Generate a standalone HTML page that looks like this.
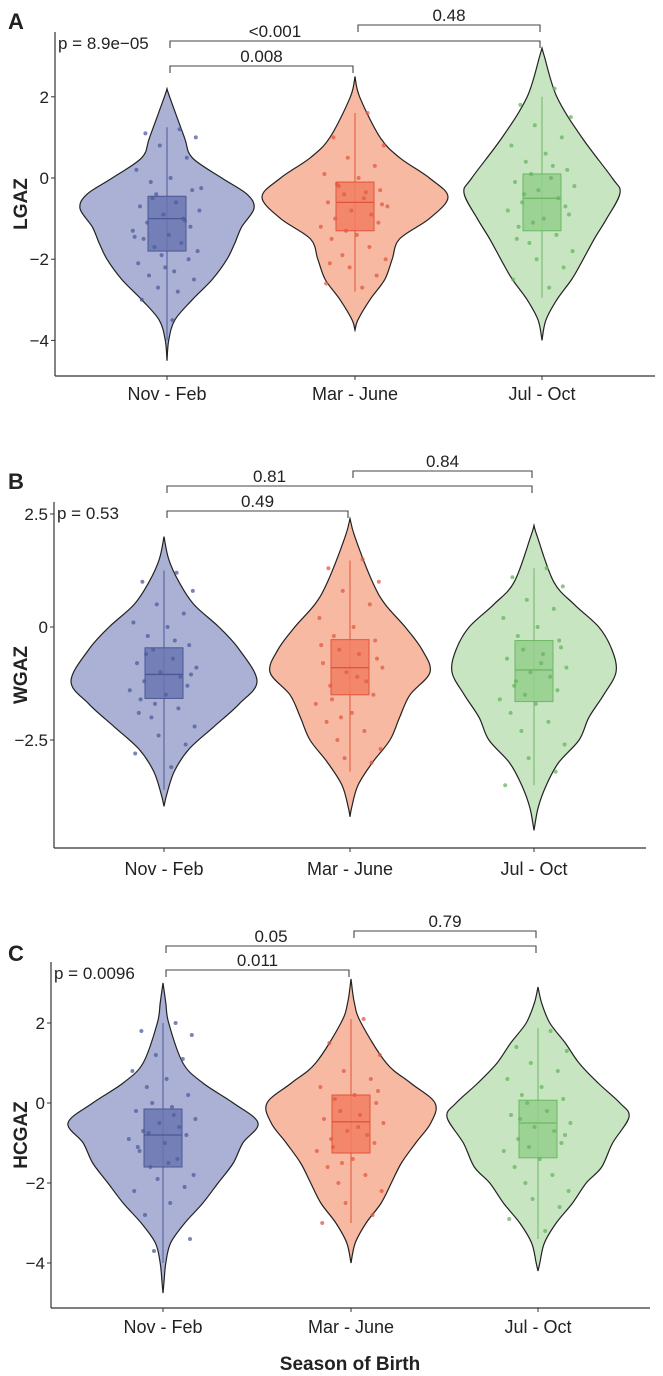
<!DOCTYPE html>
<html><head><meta charset="utf-8">
<style>
html,body{margin:0;padding:0;background:#fff;}
svg{display:block;font-family:"Liberation Sans",Arial,sans-serif;}
</style></head>
<body>
<svg id="chart" width="663" height="1376" viewBox="0 0 663 1376" xmlns="http://www.w3.org/2000/svg"></svg>
<script>
// ---------- data ----------
const categories = ["Nov - Feb", "Mar - June", "Jul - Oct"];
const panelLetters = ["A", "B", "C"];
const yTitles = ["LGAZ", "WGAZ", "HCGAZ"];
const yTicksA = [2, 0, -2, -4];
const yTicksB = [2.5, 0, -2.5];
const yTicksC = [2, 0, -2, -4];
const yTickLabelsB = ["2.5", "0", "-2.5"];
const overallP = ["p = 8.9e\u221205", "p = 0.53", "p = 0.0096"];
const pairP_A = ["0.008", "<0.001", "0.48"];
const pairP_B = ["0.49", "0.81", "0.84"];
const pairP_C = ["0.011", "0.05", "0.79"];
// box stats: [lowerWhisker, Q1, median, Q3, upperWhisker]
const boxA = [[-4.0,-1.8,-1.0,-0.45,1.25],[-2.8,-1.3,-0.6,-0.1,1.6],[-2.95,-1.3,-0.5,0.1,2.0]];
const boxB = [[-3.6,-1.58,-1.05,-0.46,1.25],[-3.2,-1.5,-0.9,-0.28,1.47],[-3.5,-1.65,-0.95,-0.3,1.3]];
const boxC = [[-4.0,-1.6,-0.8,-0.15,2.0],[-3.0,-1.25,-0.47,0.2,2.1],[-3.4,-1.37,-0.5,0.07,1.87]];
// violin density profiles: levels (value) and relative density
const levA1 = [2.2,2,1,0.5,0,-0.4,-0.75,-1.2,-1.6,-2,-2.5,-3,-3.5,-4,-4.5];
const denA1 = [0,0.03,0.2,0.29,0.63,0.92,1,0.86,0.78,0.69,0.52,0.29,0.09,0.02,0];
const levA2 = [2.5,2,1,0.5,0,-0.47,-1,-1.5,-2,-2.5,-3,-3.5,-3.75];
const denA2 = [0,0.05,0.27,0.48,0.8,1,0.8,0.48,0.4,0.32,0.16,0.03,0];
const levA3 = [3.2,3,2,1,0,-0.37,-1,-1.5,-2.1,-2.5,-3,-3.5,-4.0];
const denA3 = [0,0.03,0.19,0.51,0.9,1,0.83,0.67,0.5,0.38,0.19,0.05,0];
const levB1 = [2.0,1.5,1,0.5,0,-0.5,-1.2,-1.7,-2.2,-2.7,-3.2,-3.7,-3.97];
const denB1 = [0,0.05,0.16,0.32,0.59,0.81,1,0.81,0.54,0.27,0.11,0.03,0];
const levB2 = [2.4,2,1,0.5,0,-0.5,-1,-1.5,-2,-2.5,-3,-3.5,-4,-4.2];
const denB2 = [0,0.06,0.28,0.44,0.69,0.9,1,0.75,0.62,0.5,0.28,0.1,0.02,0];
const levB3 = [2.25,2,1,0.5,0,-0.5,-1,-1.5,-2,-2.5,-3,-3.5,-4,-4.5];
const denB3 = [0,0.04,0.24,0.49,0.79,0.95,1,0.85,0.67,0.55,0.3,0.15,0.05,0];
const levC1 = [3.0,2.5,2,1,0.5,0,-0.5,-1,-1.5,-2,-2.5,-3,-3.5,-4,-4.5,-4.75];
const denC1 = [0,0.03,0.06,0.21,0.42,0.74,1,0.84,0.74,0.58,0.42,0.23,0.08,0.03,0.01,0];
const levC2 = [3.1,2.5,2,1,0.5,0,-0.5,-1,-1.5,-2,-2.5,-3,-3.5,-4.0];
const denC2 = [0,0.04,0.12,0.42,0.71,1,0.95,0.77,0.6,0.48,0.36,0.18,0.05,0];
const levC3 = [2.9,2.5,2,1.5,1,0.5,0,-0.35,-1,-1.6,-2,-2.5,-3,-3.5,-4,-4.2];
const denC3 = [0,0.04,0.13,0.3,0.45,0.66,0.9,1,0.82,0.7,0.53,0.38,0.2,0.07,0.02,0];
// jittered observation values (subset)
const ptsA1 = [1.2,1.1,1.0,0.8,0.5,0.2,0.0,-0.1,-0.3,-0.4,-0.6,-0.7,-0.8,-0.9,-1.0,-1.1,-1.2,-1.3,-1.4,-1.5,-1.6,-1.7,-1.8,-1.9,-2.0,-2.1,-2.3,-2.4,-2.5,-2.7,-2.8,-3.0,-3.5,-0.5,-1.05,-1.45,-0.25,-2.2];
const ptsA2 = [1.6,1.0,0.8,0.5,0.3,0.1,0.0,-0.2,-0.3,-0.4,-0.5,-0.6,-0.7,-0.8,-0.9,-1.0,-1.1,-1.2,-1.4,-1.5,-1.7,-1.9,-2.0,-2.2,-2.4,-2.6,-2.7,-0.15,-0.65,-1.3,-0.35,-2.1];
const ptsA3 = [2.2,1.8,1.5,1.3,1.0,0.8,0.6,0.4,0.2,0.1,0.0,-0.1,-0.2,-0.3,-0.5,-0.6,-0.7,-0.8,-1.0,-1.2,-1.4,-1.6,-1.8,-2.0,-2.2,-2.5,-2.7,-0.4,-0.9,-1.1,0.3,-1.5];
const ptsB1 = [1.2,1.0,0.8,0.5,0.3,0.1,0.0,-0.2,-0.4,-0.5,-0.7,-0.8,-0.9,-1.0,-1.1,-1.2,-1.3,-1.4,-1.5,-1.6,-1.8,-2.0,-2.2,-2.4,-2.6,-2.8,-3.1,-0.6,-1.05,-1.7,-0.3,-1.9];
const ptsB2 = [1.5,1.3,1.0,0.8,0.5,0.2,0.0,-0.2,-0.3,-0.5,-0.6,-0.8,-0.9,-1.0,-1.2,-1.3,-1.5,-1.7,-1.9,-2.1,-2.3,-2.5,-2.7,-2.9,-3.0,-0.4,-1.1,-1.6,-0.7,-2.0];
const ptsB3 = [1.3,1.1,0.9,0.6,0.4,0.2,0.0,-0.2,-0.3,-0.5,-0.6,-0.7,-0.9,-1.0,-1.1,-1.3,-1.4,-1.6,-1.7,-1.9,-2.1,-2.3,-2.6,-2.9,-3.2,-3.5,-0.8,-1.2,-0.45,-1.5];
const ptsC1 = [2.0,1.8,1.7,1.2,1.1,0.8,0.6,0.4,0.2,0.0,-0.1,-0.2,-0.4,-0.5,-0.6,-0.7,-0.8,-0.9,-1.0,-1.2,-1.4,-1.6,-1.8,-1.9,-2.1,-2.2,-2.5,-2.8,-3.4,-3.7,-0.3,-1.1,-1.5,-0.75];
const ptsC2 = [2.1,1.5,1.2,0.8,0.6,0.4,0.2,0.1,0.0,-0.2,-0.3,-0.4,-0.5,-0.7,-0.8,-0.9,-1.0,-1.2,-1.4,-1.6,-1.8,-2.0,-2.2,-2.5,-2.8,-3.0,-0.6,-1.1,0.3,-1.5];
const ptsC3 = [1.8,1.4,1.3,1.0,0.8,0.6,0.4,0.2,0.1,0.0,-0.2,-0.3,-0.5,-0.6,-0.7,-0.9,-1.0,-1.2,-1.4,-1.6,-1.8,-2.0,-2.2,-2.4,-2.6,-2.9,-3.2,-0.4,-0.8,-1.1];
const jitter = [0.35,-0.6,0.8,-0.2,0.55,-0.85,0.1,-0.45,0.7,-0.3,0.25,-0.75,0.9,-0.1,0.45,-0.55,0.65,-0.95,0.05,-0.65,0.4,-0.35,0.85,-0.15,0.6,-0.8,0.2,-0.5,0.75,-0.25,0.3,-0.7,0.15,-0.4,0.5,-0.9,0.95,-0.05];

// ---------- layout ----------
const panels = [
 {ax:55, right:655, top:32, bottom:376, zero:178, ppu:40.6, centers:[167,355,542], ticks:yTicksA, tickLabels:yTicksA.map(String), box:boxA, lev:[levA1,levA2,levA3], den:[denA1,denA2,denA3], pts:[ptsA1,ptsA2,ptsA3], maxW:[87,93,78], pair:pairP_A, brY:[66,41,25], letterY:29, xLabY:400},
 {ax:54, right:646, top:502, bottom:848, zero:627, ppu:45.2, centers:[164,350,534], ticks:yTicksB, tickLabels:yTickLabelsB, box:boxB, lev:[levB1,levB2,levB3], den:[denB1,denB2,denB3], pts:[ptsB1,ptsB2,ptsB3], maxW:[93,80,82], pair:pairP_B, brY:[511,486,471], letterY:489, xLabY:875},
 {ax:51, right:650, top:962, bottom:1308, zero:1103, ppu:40, centers:[163,351,538], ticks:yTicksC, tickLabels:yTicksC.map(String), box:boxC, lev:[levC1,levC2,levC3], den:[denC1,denC2,denC3], pts:[ptsC1,ptsC2,ptsC3], maxW:[95,84,91], pair:pairP_C, brY:[970,946,931], letterY:961, xLabY:1333}
];
const violinFill = ["#aab1d5","#f8b9a2","#c7e5c1"];
const boxFill = ["#6a77b0","#f27e62","#94cf8c"];
const boxStroke = ["#4a5896","#e0553a","#6cb865"];
const ptFill = ["#4d5c9c","#e35a40","#66b45d"];

const svg = document.getElementById('chart');
const NS = "http://www.w3.org/2000/svg";
function mk(tag, attrs, parent){
  const e = document.createElementNS(NS, tag);
  for (const k in attrs) e.setAttribute(k, attrs[k]);
  (parent||svg).appendChild(e);
  return e;
}
function txt(s, attrs, parent){ const t = mk('text', attrs, parent); t.textContent = s; return t; }

function smoothPath(pts){
  let d = "M"+pts[0][0].toFixed(1)+","+pts[0][1].toFixed(1);
  for (let i=0;i<pts.length-1;i++){
    const p0=pts[Math.max(0,i-1)], p1=pts[i], p2=pts[i+1], p3=pts[Math.min(pts.length-1,i+2)];
    const c1=[p1[0]+(p2[0]-p0[0])/6, p1[1]+(p2[1]-p0[1])/6];
    const c2=[p2[0]-(p3[0]-p1[0])/6, p2[1]-(p3[1]-p1[1])/6];
    d += " C"+c1[0].toFixed(1)+","+c1[1].toFixed(1)+" "+c2[0].toFixed(1)+","+c2[1].toFixed(1)+" "+p2[0].toFixed(1)+","+p2[1].toFixed(1);
  }
  return d;
}

panels.forEach((P, pi) => {
  const g = mk('g', {});
  
  
  const yS = v => P.zero - v * P.ppu;

  const L = txt(panelLetters[pi], {x:8, y:P.letterY, 'font-size':22, 'font-weight':'bold', fill:'#222'}, g);
  
  

  P.centers.forEach((cx, ci) => {
    const vg = mk('g', {}, g);
    
    
    const lev = P.lev[ci], den = P.den[ci], mw = P.maxW[ci];
    const right = lev.map((v,k)=>[cx + den[k]*mw, yS(v)]);
    const left = lev.map((v,k)=>[cx - den[k]*mw, yS(v)]).reverse();
    const d = smoothPath(right) + " L" + smoothPath(left).slice(1) + " Z";
    const vp = mk('path', {d:d, fill:violinFill[ci], stroke:'#222', 'stroke-width':1.2}, vg);
    
    
    const b = P.box[ci];
    const wl = mk('line', {x1:cx, x2:cx, y1:yS(b[0]), y2:yS(b[4]), stroke:boxStroke[ci], 'stroke-width':1}, vg);
    
    
    const bw = 19;
    const br = mk('rect', {x:cx-bw, y:yS(b[3]), width:2*bw, height:yS(b[1])-yS(b[3]), fill:boxFill[ci], 'fill-opacity':0.85, stroke:boxStroke[ci], 'stroke-width':1}, vg);
    
    
    const md = mk('line', {x1:cx-bw, x2:cx+bw, y1:yS(b[2]), y2:yS(b[2]), stroke:boxStroke[ci], 'stroke-width':1.3}, vg);
    
    
    P.pts[ci].forEach((v, k) => {
      const c = mk('circle', {cx:cx + jitter[k % jitter.length]*36, cy:yS(v), r:2, fill:ptFill[ci], 'fill-opacity':0.75}, vg);
      
      
    });
  });

  const ya = mk('line', {x1:P.ax, x2:P.ax, y1:P.top, y2:P.bottom, stroke:'#333', 'stroke-width':1.2}, g);
  
  
  const xa = mk('line', {x1:P.ax, x2:P.right, y1:P.bottom, y2:P.bottom, stroke:'#333', 'stroke-width':1.2}, g);
  
  
  P.ticks.forEach((t, k) => {
    const yy = yS(t);
    const tl = mk('line', {x1:P.ax-4, x2:P.ax, y1:yy, y2:yy, stroke:'#333', 'stroke-width':1}, g);
    
    
    const lab = txt(P.tickLabels[k].replace('-', '\u2212'), {x:P.ax-6, y:yy+6, 'text-anchor':'end', 'font-size':17, fill:'#222'}, g);
    
    
  });
  P.centers.forEach((cx, ci) => {
    const tk = mk('line', {x1:cx, x2:cx, y1:P.bottom, y2:P.bottom+4, stroke:'#333', 'stroke-width':1}, g);
    
    
    const lab = txt(categories[ci], {x:cx, y:P.xLabY, 'text-anchor':'middle', 'font-size':18, fill:'#222'}, g);
    
    
  });
  const midY = (P.top + P.bottom) / 2;
  const yt = txt(yTitles[pi], {x:0, y:0, transform:'translate(27,'+midY+') rotate(-90)', 'text-anchor':'middle', 'font-size':19, 'font-weight':'bold', fill:'#222'}, g);
  
  
  const op = txt(overallP[pi], {x:P.ax+3, y:P.top+17, 'font-size':17, fill:'#222'}, g);
  
  
  const pairs = [[0,1],[0,2],[1,2]];
  const labShift = [0, -80, 0];
  pairs.forEach((pr, k) => {
    const x1 = P.centers[pr[0]] + 3, x2 = P.centers[pr[1]] - 2, yb = P.brY[k];
    const bp = mk('path', {d:`M${x1},${yb+7} V${yb} H${x2} V${yb+7}`, fill:'none', stroke:'#444', 'stroke-width':1.1}, g);
    
    
    const bl = txt(P.pair[k], {x:(x1+x2)/2 + labShift[k], y:yb-4, 'text-anchor':'middle', 'font-size':17, fill:'#222'}, g);
    
    
  });
});

const xt = txt("Season of Birth", {x:350, y:1370, 'text-anchor':'middle', 'font-size':19, 'font-weight':'bold', fill:'#222'});


</script>
</body></html>
